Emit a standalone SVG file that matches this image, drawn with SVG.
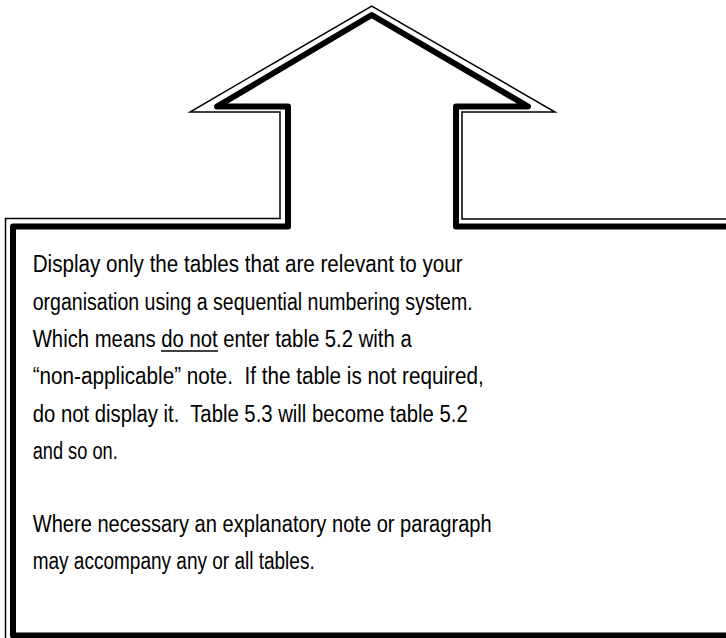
<svg xmlns="http://www.w3.org/2000/svg" width="726" height="638" viewBox="0 0 726 638">
  <style>
    .thin { fill: none; stroke: #000; stroke-width: 1.5; stroke-linejoin: miter; }
    .thick { fill: none; stroke: #000; stroke-width: 6; stroke-linejoin: round; stroke-linecap: round; }
    .t { font-family: "Liberation Sans", Arial, sans-serif; font-size: 23px; fill: #000; white-space: pre; }
  </style>
  <rect width="726" height="638" fill="#fff"/>
  <g id="arrow-callout">
    <path class="thin" d="M 5.5 645 L 5.5 218.5 L 280 218.5 L 280 112 L 190 112 L 371.7 6 L 555 112 L 462 112 L 462 219 L 735 219"/>
    <path class="thick" d="M 735 635.5 L 13 635.5 L 13 226.5 L 288 226.5 L 288 106.5 L 217 106.5 L 371.7 15 L 528 106.5 L 456 106.5 L 456 226.5 L 735 226.5"/>
  </g>
  <g id="callout-text">
    <text class="t" x="32.7" y="271.7" textLength="430" lengthAdjust="spacingAndGlyphs">Display only the tables that are relevant to your</text>
    <text class="t" x="32.7" y="309.5" textLength="440" lengthAdjust="spacingAndGlyphs">organisation using a sequential numbering system.</text>
    <text class="t" x="32.7" y="347" textLength="379" lengthAdjust="spacingAndGlyphs">Which means do not enter table 5.2 with a</text>
    <line x1="161" y1="351" x2="218" y2="351" stroke="#000" stroke-width="1.6"/>
    <text class="t" x="32.7" y="384" textLength="451" lengthAdjust="spacingAndGlyphs">“non-applicable” note.  If the table is not required,</text>
    <text class="t" x="32.7" y="421.5" textLength="435" lengthAdjust="spacingAndGlyphs">do not display it.  Table 5.3 will become table 5.2</text>
    <text class="t" x="32.7" y="458.5" textLength="85" lengthAdjust="spacingAndGlyphs">and so on.</text>
    <text class="t" x="32.7" y="531.5" textLength="459" lengthAdjust="spacingAndGlyphs">Where necessary an explanatory note or paragraph</text>
    <text class="t" x="32.7" y="568.5" textLength="282" lengthAdjust="spacingAndGlyphs">may accompany any or all tables.</text>
  </g>
</svg>
